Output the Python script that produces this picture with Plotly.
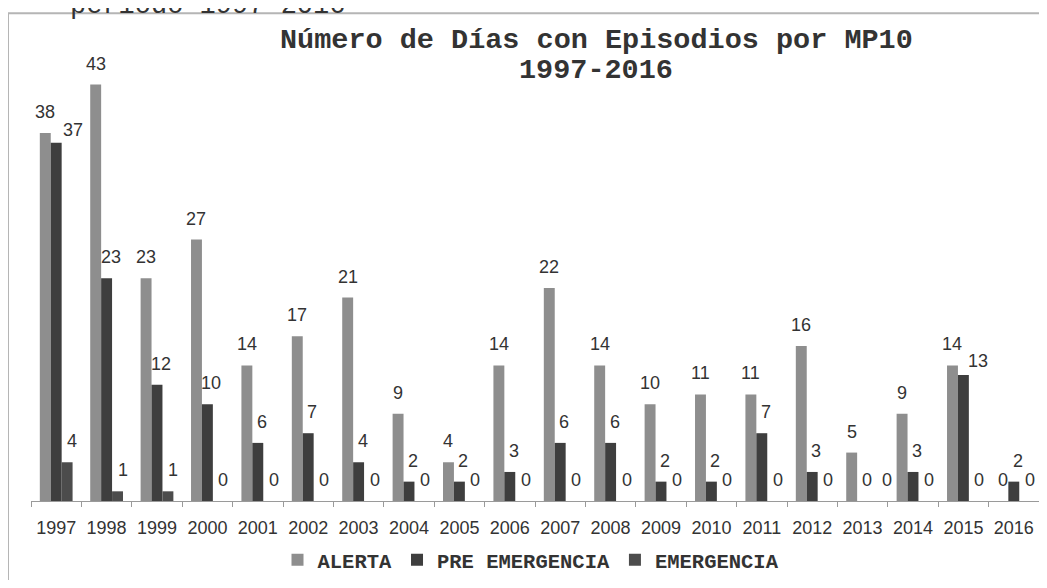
import plotly.graph_objects as go

# data
years = [str(y) for y in range(1997, 2017)]
alerta = [38, 43, 23, 27, 14, 17, 21, 9, 4, 14, 22, 14, 10, 11, 11, 16, 5, 9, 14, 0]
pre_emergencia = [37, 23, 12, 10, 6, 7, 4, 2, 2, 3, 6, 6, 2, 2, 7, 3, 0, 3, 13, 2]
emergencia = [4, 1, 1, 0, 0, 0, 0, 0, 0, 0, 0, 0, 0, 0, 0, 0, 0, 0, 0, 0]

series_names = ["ALERTA", "PRE EMERGENCIA", "EMERGENCIA"]
series_colors = ["#8e8e8e", "#3e3e3e", "#4c4c4c"]

# the page body has an 8px margin all round; keep the figure inside it so no scrollbar shows
OFF = 8
W, H = 1047 - 2 * OFF, 588 - 2 * OFF
# plot area in window pixels: x 31..1039, zero line at y 506
PL, PR, PT, PB = 31, 1039, 40, 506
M_L, M_R, M_T, M_B = PL - OFF, OFF + W - PR, PT - OFF, OFF + H - PB
BARGAP = 0.35
PX_PER_UNIT = 9.79
Y_MAX = (PB - PT) / PX_PER_UNIT

plot_w = PR - PL
plot_h = PB - PT


def paper_y(px):
    """window pixel row -> paper y"""
    return (PB - px) / plot_h


def paper_x(px):
    """window pixel column -> paper x"""
    return (px - PL) / plot_w


fig = go.Figure()
all_values = [alerta, pre_emergencia, emergencia]
for name, vals, col in zip(series_names, all_values, series_colors):
    fig.add_trace(go.Bar(x=years, y=vals, name=name, marker_color=col,
                         marker_line_width=0))

# value labels above each bar (x as category index, offset to the bar in its group)
bar_w = (1 - BARGAP) / 3
label_extra = [0, 4, 5]
# labels that were dragged aside in the original: (series, year) -> (dx, dy)
label_nudge = {(1, "1997"): (13, -8), (1, "2015"): (11, -7), (2, "2013"): (8, 0)}
for k, vals in enumerate(all_values):
    for i, v in enumerate(vals):
        dx, dy = label_nudge.get((k, years[i]), (0, 0))
        fig.add_annotation(x=i + (k - 1) * bar_w, y=v, text=str(v), showarrow=False,
                           yanchor="bottom", yshift=9 + dy, xshift=label_extra[k] + dx,
                           font=dict(family="Liberation Sans, Arial", size=18, color="#333"))

# title (two tight lines) and the clipped caption above the frame
title_font = dict(family="Liberation Mono, Courier New", size=28.5, color="#333")
fig.add_annotation(xref="paper", yref="paper", x=paper_x(596), y=paper_y(40),
                   text="<b>Número de Días con Episodios por MP10</b>", showarrow=False,
                   xanchor="center", yanchor="middle", font=title_font)
fig.add_annotation(xref="paper", yref="paper", x=paper_x(596), y=paper_y(71),
                   text="<b>1997-2016</b>", showarrow=False,
                   xanchor="center", yanchor="middle", font=title_font)
fig.add_annotation(xref="paper", yref="paper", x=paper_x(68), y=paper_y(6),
                   text="período 1997-2016", showarrow=False,
                   xanchor="left", yanchor="middle",
                   font=dict(family="Liberation Mono, Courier New", size=27, color="#333"))

# outer frame of the chart
fig.add_shape(type="rect", xref="paper", yref="paper",
              x0=paper_x(8), x1=paper_x(1070), y0=paper_y(600), y1=paper_y(13),
              line=dict(color="#b5b5b5", width=2), layer="below")

fig.update_layout(
    width=W, height=H,
    margin=dict(l=M_L, r=M_R, t=M_T, b=M_B),
    plot_bgcolor="white", paper_bgcolor="white",
    barmode="group", bargap=BARGAP, bargroupgap=0,
    showlegend=True,
    legend=dict(orientation="h", x=paper_x(531), xanchor="center",
                y=paper_y(566), yanchor="middle",
                font=dict(family="Liberation Mono, Courier New", size=20.5, color="#333",
                          weight="bold"),
                itemwidth=30, traceorder="normal"),
    xaxis=dict(type="category", range=[-0.5, len(years) - 0.5],
               showline=True, linecolor="#9a9a9a", linewidth=1,
               ticks="outside", tickson="boundaries", ticklen=5, tickcolor="#9a9a9a",
               ticklabelstandoff=10, showgrid=False,
               tickfont=dict(family="Liberation Sans, Arial", size=18, color="#333")),
    yaxis=dict(range=[0, Y_MAX], visible=False, showgrid=False),
)

fig.write_html("out.html")
